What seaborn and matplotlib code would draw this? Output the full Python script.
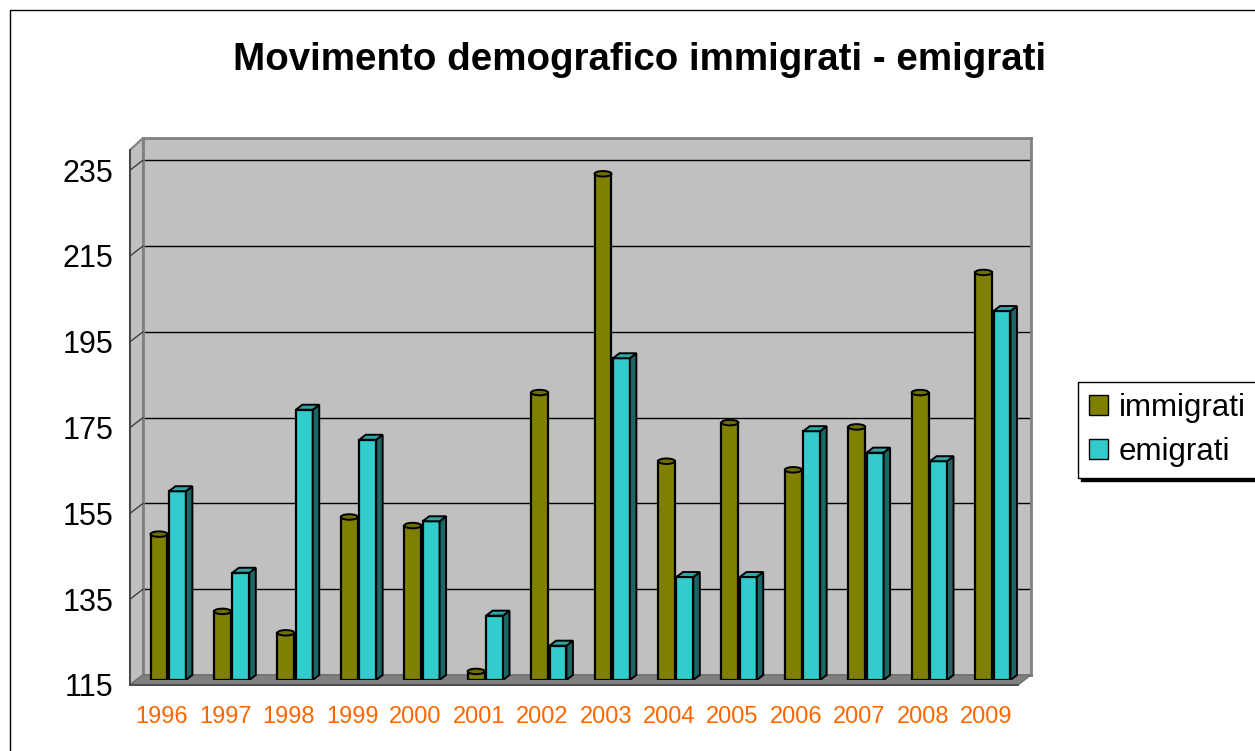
import pandas as pd
import seaborn as sns
import matplotlib.pyplot as plt
from matplotlib.patches import Polygon, Ellipse, Patch
from matplotlib.lines import Line2D

# Dati
anni = ['1996', '1997', '1998', '1999', '2000', '2001', '2002',
        '2003', '2004', '2005', '2006', '2007', '2008', '2009']
immigrati = [149, 131, 126, 153, 151, 117, 182, 233, 166, 175, 164, 174, 182, 210]
emigrati = [159, 140, 178, 171, 152, 130, 123, 190, 139, 139, 173, 168, 166, 201]
serie = ['immigrati', 'emigrati']
y_ticks = [115, 135, 155, 175, 195, 215, 235]

df = pd.DataFrame({
    'anno': anni * 2,
    'valore': immigrati + emigrati,
    'serie': [serie[0]] * len(anni) + [serie[1]] * len(anni),
})

olive = '#808000'
teal = '#33CCCC'
orange = '#FF6600'

sns.set_style('white')
plt.rcParams['font.family'] = ['Liberation Sans', 'DejaVu Sans']
plt.rcParams['text.color'] = 'black'
plt.rcParams['xtick.color'] = 'black'
plt.rcParams['ytick.color'] = 'black'

W, H = 1255, 751
fig = plt.figure(figsize=(W / 100, H / 100), dpi=100)
base = 115
ppu = 4.29  # pixel per unità


def px(x, y):
    return (x / W, 1 - y / H)


def box(l, b, r, t, z):
    ax = fig.add_axes([l / W, 1 - b / H, (r - l) / W, (b - t) / H], zorder=z)
    ax.set_ylim(base, base + (b - t) / ppu)
    ax.set_xlim(-0.5, len(anni) - 0.5)
    return ax


# parete di fondo con griglia
ax_wall = box(143, 675, 1031, 138, 0)
ax_wall.set_facecolor('#C0C0C0')
ax_wall.set_yticks(y_ticks)
ax_wall.set_xticks([])
ax_wall.tick_params(left=False, labelleft=False)
ax_wall.grid(axis='y', color='black', lw=1)
for s in ax_wall.spines.values():
    s.set_color('#808080')
    s.set_linewidth(2)

# parete laterale e pavimento
fig.add_artist(Polygon([px(130, 685), px(130, 150), px(143, 138), px(143, 675)],
                       closed=True, transform=fig.transFigure, facecolor='#C0C0C0',
                       edgecolor='#808080', lw=1.5, zorder=0.5))
fig.add_artist(Polygon([px(130, 685), px(1018, 685), px(1031, 675), px(143, 675)],
                       closed=True, transform=fig.transFigure, facecolor='#808080',
                       edgecolor='#707070', lw=1, zorder=0.5))
for v in y_ticks[1:]:
    yf = 685 - (v - base) * ppu
    fig.add_artist(Line2D([130 / W, 143 / W], [1 - yf / H, 1 - (yf - 10) / H],
                          transform=fig.transFigure, color='#404040', lw=1, zorder=0.6))

# barre
ax = box(136.5, 680, 1024.5, 144, 1)
ax.patch.set_alpha(0)
sns.barplot(data=df, x='anno', y='valore', hue='serie', hue_order=serie,
            palette=[olive, teal], width=0.58, gap=0.08, saturation=1,
            edgecolor='black', linewidth=1.6, legend=False, ax=ax)
ax.set_xlim(-0.5, len(anni) - 0.5)
ax.set_ylim(base, base + (680 - 144) / ppu)
ax.axis('off')

dx = 6.5 / ((1024.5 - 136.5) / len(anni))
dy = 5 / ppu
bars = list(ax.patches)
n = len(anni)
for i, p in enumerate(bars):
    x, w, h = p.get_x(), p.get_width(), p.get_height()
    p.set_y(base)
    p.set_height(h - base)
    if i < n:
        ax.add_patch(Ellipse((x + w / 2, h), w, dy * 1.1, facecolor='#6E6E00',
                             edgecolor='black', lw=1.4, zorder=3))
    else:
        ax.add_patch(Polygon([(x + w, base), (x + w + dx, base + dy),
                              (x + w + dx, h + dy), (x + w, h)], closed=True,
                             facecolor='#1D6666', edgecolor='black', lw=1.4, zorder=2))
        ax.add_patch(Polygon([(x, h), (x + dx, h + dy), (x + w + dx, h + dy), (x + w, h)],
                             closed=True, facecolor='#2AA8A8', edgecolor='black',
                             lw=1.4, zorder=2))

# assi frontali
ax_front = box(130, 685, 1018, 150, 2)
ax_front.patch.set_alpha(0)
ax_front.set_yticks(y_ticks)
ax_front.set_yticklabels([str(v) for v in y_ticks])
ax_front.tick_params(axis='y', direction='inout', length=12, width=1,
                     color='#404040', labelsize=22, labelcolor='black', pad=6)
ax_front.set_xticks(range(len(anni)))
ax_front.set_xticklabels(anni)
ax_front.set_xticks([i - 0.5 for i in range(len(anni) + 1)], minor=True)
ax_front.tick_params(axis='x', which='major', length=0, labelsize=17,
                     labelcolor=orange, pad=15)
ax_front.tick_params(axis='x', which='minor', direction='out', length=8,
                     width=1, color='#404040')
for s in ['top', 'right']:
    ax_front.spines[s].set_visible(False)
for s in ['left', 'bottom']:
    ax_front.spines[s].set_color('#404040')
    ax_front.spines[s].set_linewidth(1.2)

# titolo
fig.text(639.5 / W, 1 - 60 / H, 'Movimento demografico immigrati - emigrati',
         ha='center', va='center', fontsize=27.7, fontweight='bold', color='black')

# legenda
handles = [Patch(facecolor=olive, edgecolor='black'), Patch(facecolor=teal, edgecolor='black')]
leg = fig.legend(handles, serie, loc='upper left', bbox_to_anchor=px(1078, 382),
                 fontsize=22.5, frameon=True, fancybox=False, framealpha=1,
                 edgecolor='black', shadow={'color': 'black', 'alpha': 1},
                 handlelength=0.6, handleheight=0.6, handletextpad=0.35,
                 labelspacing=0.45, borderpad=0.35, borderaxespad=0)
leg.get_frame().set_linewidth(1)
for t in leg.get_texts():
    t.set_color('black')

# cornice esterna
fig.add_artist(Line2D([10 / W, 10 / W, 1], [0, 1 - 10 / H, 1 - 10 / H],
                      transform=fig.transFigure, color='black', lw=1))

fig.savefig('out.png', dpi=100)
